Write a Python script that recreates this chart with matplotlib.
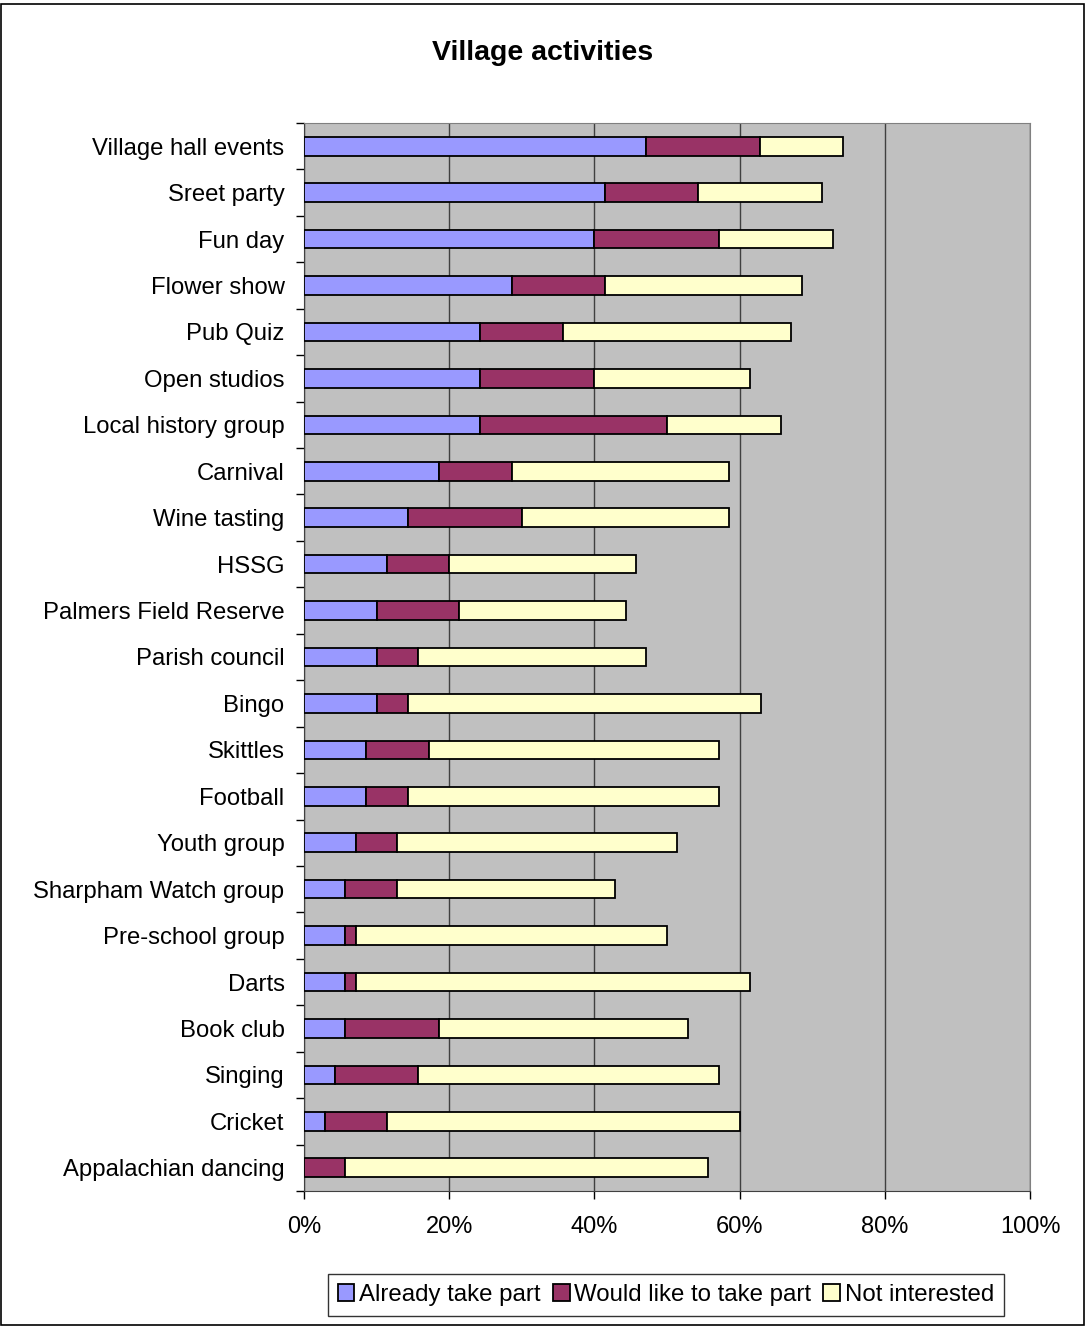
import matplotlib
matplotlib.use("Agg")
import matplotlib.pyplot as plt
from matplotlib.ticker import FuncFormatter
import numpy as np

plt.rcParams['font.family'] = ['Liberation Sans', 'DejaVu Sans']

categories = ["Village hall events", "Sreet party", "Fun day", "Flower show", "Pub Quiz",
              "Open studios", "Local history group", "Carnival", "Wine tasting", "HSSG",
              "Palmers Field Reserve", "Parish council", "Bingo", "Skittles", "Football",
              "Youth group", "Sharpham Watch group", "Pre-school group", "Darts", "Book club",
              "Singing", "Cricket", "Appalachian dancing"]
already = [47.1, 41.4, 40.0, 28.6, 24.3, 24.3, 24.3, 18.6, 14.3, 11.4, 10.0, 10.0, 10.0,
           8.6, 8.6, 7.1, 5.7, 5.7, 5.7, 5.7, 4.3, 2.9, 0.0]
would_like = [15.7, 12.9, 17.1, 12.9, 11.4, 15.7, 25.7, 10.0, 15.7, 8.6, 11.4, 5.7, 4.3,
              8.6, 5.7, 5.7, 7.1, 1.4, 1.4, 12.9, 11.4, 8.6, 5.7]
not_interested = [11.4, 17.1, 15.7, 27.1, 31.4, 21.4, 15.7, 30.0, 28.6, 25.7, 22.9, 31.4, 48.6,
                  40.0, 42.9, 38.6, 30.0, 42.9, 54.3, 34.3, 41.4, 48.6, 50.0]
series_names = ["Already take part", "Would like to take part", "Not interested"]
colors = ["#9999FF", "#993366", "#FFFFCC"]
xticks = [0, 20, 40, 60, 80, 100]

W, H = 1086, 1326
fig = plt.figure(figsize=(W / 100, H / 100), dpi=100)
fig.patch.set_facecolor("white")

ax = fig.add_axes([304 / W, 1 - 1191 / H, (1030 - 304) / W, (1191 - 123) / H])
ax.set_facecolor("#C0C0C0")

y = np.arange(len(categories))
a = np.array(already)
b = np.array(would_like)
c = np.array(not_interested)
h = 0.4
ax.barh(y, a, height=h, color=colors[0], edgecolor="black", linewidth=1.3, label=series_names[0], zorder=3)
ax.barh(y, b, left=a, height=h, color=colors[1], edgecolor="black", linewidth=1.3, label=series_names[1], zorder=3)
ax.barh(y, c, left=a + b, height=h, color=colors[2], edgecolor="black", linewidth=1.3, label=series_names[2], zorder=3)

ax.set_xlim(0, 100)
ax.set_ylim(len(categories) - 0.5, -0.5)
ax.set_xticks(xticks)
ax.xaxis.set_major_formatter(FuncFormatter(lambda v, p: f"{int(v)}%"))
ax.set_yticks(y)
ax.set_yticklabels(categories)
ax.tick_params(axis="y", length=0, pad=14, labelsize=17.2)
for lbl in ax.get_yticklabels():
    lbl.set_va("center_baseline")
ax.set_yticks(np.arange(-0.5, len(categories), 1), minor=True)
ax.tick_params(axis="y", which="minor", length=6, width=1, direction="out")
ax.tick_params(axis="x", length=6, width=1, direction="out", labelsize=17, pad=12)
ax.grid(axis="x", color="#404040", linewidth=1, zorder=1)
for s in ["top", "right"]:
    ax.spines[s].set_color("#808080")
ax.spines["left"].set_color("#404040")
ax.spines["bottom"].set_color("#404040")

fig.text(0.5, 1 - 53 / H, "Village activities", ha="center", va="center", fontsize=20.5, fontweight="bold")

leg = fig.legend(loc="center", bbox_to_anchor=(666 / W, 1 - 1295 / H), ncol=3, frameon=True,
                 fontsize=17.3, handlelength=0.7, handleheight=0.7, handletextpad=0.2,
                 columnspacing=0.5, borderpad=0.4, fancybox=False, edgecolor="black")
leg.get_frame().set_linewidth(1)

border = plt.Rectangle((1 / W, 1 / H), 1 - 3 / W, 1 - 5 / H, transform=fig.transFigure,
                       fill=False, edgecolor="black", linewidth=1.2)
fig.patches.append(border)

fig.savefig("out.png", dpi=100)
